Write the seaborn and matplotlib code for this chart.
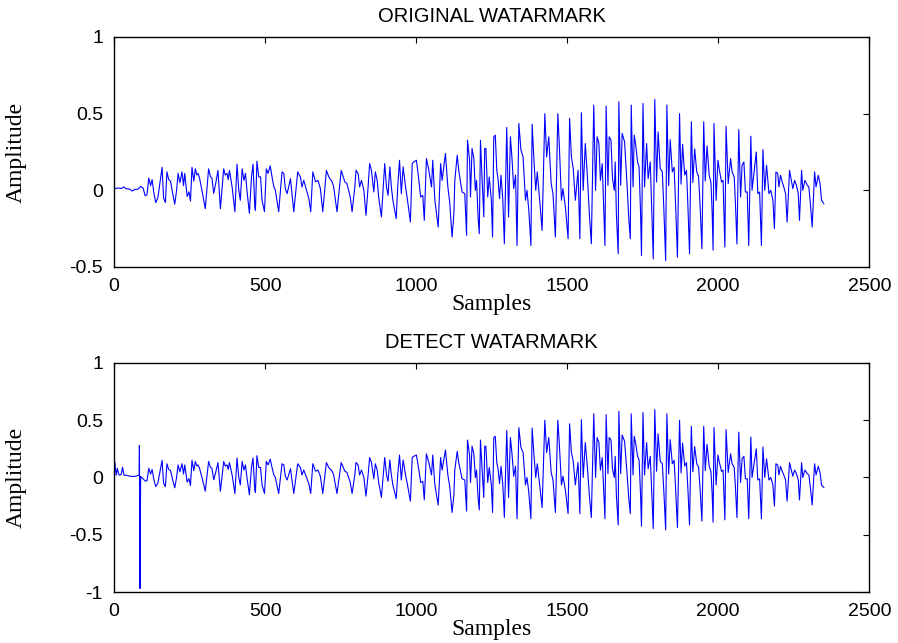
import matplotlib
matplotlib.use('Agg')
import matplotlib.pyplot as plt
import pandas as pd
import seaborn as sns

# waveform vertices (sample index, amplitude)
orig_samples = [
    0, 12, 25, 32, 40, 52, 60, 68, 80, 88, 96, 103, 109,
    115, 121, 126, 132, 138, 145, 152, 159, 164, 170, 175, 181, 187, 194, 201,
    207, 212, 218, 225, 230, 234, 242, 248, 253, 258, 264, 269, 274, 278, 283,
    291, 302, 308, 313, 319, 324, 330, 337, 344, 352, 357, 363, 368, 374, 378,
    382, 391, 400,
    407, 413, 418, 424, 430, 435, 440, 448, 455, 460, 466, 468, 473, 479, 485,
    490, 498, 504, 510, 517, 523, 529, 534, 545, 556, 562, 567, 573, 584, 595,
    608, 617, 622, 628, 634, 645, 651, 658, 667, 675, 683, 691, 703, 711, 722,
    727, 738, 752, 764, 771, 782, 788,
    797, 801, 808, 813, 819, 827, 834, 841, 846, 852, 860, 865, 871, 876, 885,
    891, 896, 902, 907, 913, 918, 923, 934, 939, 945, 951, 957, 965, 970, 981,
    987, 992, 1001, 1009, 1015, 1022, 1027, 1034, 1042, 1051, 1055, 1062, 1073,
    1081, 1086, 1097, 1105, 1111, 1119, 1125, 1128, 1136, 1141, 1152, 1161,
    1167, 1170, 1177, 1180,
    1185, 1191, 1196, 1200, 1205, 1209, 1213, 1218, 1224, 1227, 1231, 1237,
    1242, 1249, 1253, 1257, 1262, 1267, 1271, 1276, 1281, 1287, 1292, 1300,
    1306, 1312, 1317, 1323, 1329, 1334, 1340, 1347, 1354, 1362, 1367, 1373,
    1380, 1384, 1390, 1396, 1401, 1409, 1417, 1426, 1432, 1439, 1447, 1453,
    1461, 1469, 1474, 1481, 1486, 1494, 1503, 1508, 1514, 1520, 1527, 1536,
    1542, 1547, 1553, 1560, 1567, 1574, 1580, 1588,
    1594, 1599, 1605, 1610, 1616, 1620, 1625, 1629, 1635, 1639, 1645, 1650,
    1656, 1659, 1663, 1669, 1671, 1677, 1682, 1690, 1698, 1704, 1709, 1712,
    1718, 1722, 1727, 1733, 1738, 1743, 1746, 1751, 1756, 1763, 1768, 1775,
    1780, 1785, 1790, 1796, 1801, 1808, 1815, 1820, 1826,
    1830, 1836, 1841, 1848, 1854, 1859, 1865, 1872, 1877, 1882, 1889, 1895,
    1900, 1905, 1911, 1916, 1922, 1929, 1935, 1940, 1946, 1952, 1957, 1963,
    1970, 1976, 1980, 1983,
    1986, 1993, 1999, 2004, 2011, 2016, 2022, 2026, 2033, 2041, 2046, 2053,
    2057, 2062, 2068, 2074, 2079, 2085, 2090, 2096, 2101, 2108, 2112, 2120,
    2126, 2131, 2137, 2143, 2148, 2154, 2160, 2168, 2174, 2181, 2186, 2191,
    2197, 2201, 2206, 2212, 2217, 2223, 2228, 2236, 2243, 2247, 2253, 2259,
    2265, 2269, 2276, 2280, 2287, 2295, 2300, 2306, 2311, 2319, 2324, 2331,
    2337, 2342, 2350,
]
orig_amp = [
    0.01, 0.015, 0.012, 0.022, 0.01, 0.008, -0.005, 0.005, 0.008, 0.025, 0.015, -0.035, -0.03,
    0.08, 0.03, 0.07, -0.02, -0.08, -0.05, 0.05, 0.15, -0.05, -0.08, 0.12, 0.07, 0.06, -0.02, -0.09,
    0.0, 0.11, 0.05, 0.12, 0.03, 0.11, -0.04, -0.01, -0.07, 0.15, 0.06, 0.14, 0.1, 0.11, 0.08,
    0.0, -0.12, 0.02, 0.14, 0.09, 0.08, -0.02, 0.05, 0.13, -0.12, 0.0, 0.14, 0.1, 0.11, 0.07,
    0.13, 0.02, -0.14,
    0.17, 0.0, -0.065, 0.14, 0.065, 0.11, 0.0, -0.15, 0.087, 0.17, -0.11, -0.13, 0.19, 0.087, 0.087,
    -0.065, -0.14, 0.14, 0.11, 0.16, 0.087, 0.022, 0.0, -0.14, 0.12, 0.11, 0.011, -0.022, 0.076, -0.14,
    0.12, 0.087, 0.022, 0.065, 0.022, -0.055, -0.14, 0.12, 0.055, 0.065, 0.011, -0.14, 0.13, 0.087, 0.055,
    0.022, -0.14, 0.13, 0.055, 0.044, -0.044, -0.14,
    0.022, 0.131, 0.109, 0.022, 0.065, 0.0, -0.163, 0.022, 0.174, 0.131, -0.011, 0.12, 0.065, -0.044, -0.174,
    0.022, 0.174, 0.022, -0.033, 0.153, 0.022, -0.065, -0.185, 0.022, 0.196, -0.022, 0.153, 0.022, -0.044, -0.207,
    0.174, 0.185, 0.196, 0.065, -0.044, -0.033, -0.196, 0.207, 0.131, 0.022, 0.196, -0.065, -0.24,
    0.174, 0.065, 0.24, 0.022, -0.076, -0.305, -0.153, 0.065, 0.229, 0.131, -0.011, -0.022,
    -0.294, 0.327, 0.196, -0.044,
    0.273, 0.207, 0.0, 0.065, -0.174, -0.283, 0.327, 0.087, -0.174, 0.273, 0.273, -0.044,
    0.087, -0.065, -0.305, 0.349, 0.36, 0.131, 0.076, -0.054, 0.098, -0.065, -0.349, 0.41,
    -0.174, 0.349, 0.218, 0.011, 0.098, -0.36, 0.436, 0.262, 0.218, -0.065, 0.0, -0.131,
    -0.36, 0.432, 0.196, 0.0, 0.12, -0.065, -0.262, 0.5, 0.218, 0.349, 0.044, -0.022,
    -0.305, 0.5, 0.294, -0.065, 0.011, -0.109, -0.316, 0.469, 0.218, 0.142, -0.065, 0.131,
    -0.316, 0.506, 0.0, 0.305, 0.087, -0.174, -0.349, 0.556,
    0.0, 0.349, 0.305, 0.065, 0.174, -0.065, -0.36, 0.549, 0.033, 0.349, 0.327, 0.076,
    0.0, 0.185, -0.164, -0.414, 0.578, 0.033, 0.371, 0.316, 0.044, -0.185, -0.316, 0.556,
    0.022, 0.36, 0.294, 0.185, 0.153, -0.153, -0.425, 0.567, 0.022, 0.305, 0.076, 0.185,
    -0.12, -0.447, 0.593, 0.054, 0.381, 0.142, 0.12, -0.12, -0.458,
    0.556, 0.03, 0.33, 0.12, 0.15, -0.1, -0.436, 0.5, 0.04, 0.3, 0.1, 0.13,
    -0.12, -0.414, 0.447, 0.05, 0.27, 0.12, 0.09, -0.1, -0.381, 0.447, 0.06, 0.29,
    0.1, 0.05, -0.15, -0.39,
    0.436, -0.066, 0.196, 0.13, 0.054, 0.065, -0.37, 0.418, 0.044, 0.207, 0.12, 0.087,
    -0.087, -0.35, 0.396, -0.044, 0.163, 0.185, -0.011, -0.011, -0.36, 0.353, 0.0, 0.142,
    0.25, -0.022, -0.011, -0.36, 0.266, 0.0, 0.163, -0.022, 0.0, -0.065, -0.25, 0.12,
    0.109, 0.022, 0.098, 0.054, 0.022, -0.022, -0.207, 0.13, 0.054, 0.011, 0.065, 0.033,
    -0.022, -0.196, 0.13, 0.0, 0.065, 0.033, 0.022, -0.11, -0.24, 0.12, 0.022, 0.098,
    0.044, -0.066, -0.088,
]

# the detected watermark differs only in its first ~100 samples (spike near 85)
detect_head_samples = [0, 3, 7, 11, 15, 19, 24, 28, 33, 40, 55, 70, 83, 84, 86, 88, 95, 103]
detect_head_amp = [0.06, 0.13, 0.02, 0.08, 0.03, 0.02, 0.03, 0.09, 0.02, 0.02, 0.01, 0.01,
                   0.02, 0.28, -0.97, 0.01, -0.01, -0.03]

x_ticks = [0, 500, 1000, 1500, 2000, 2500]
top_yticks = [-0.5, 0, 0.5, 1]
bottom_yticks = [-1, -0.5, 0, 0.5, 1]

orig_df = pd.DataFrame({'sample': orig_samples, 'amp': orig_amp})
tail = orig_df[orig_df['sample'] >= 109]
detect_df = pd.concat([pd.DataFrame({'sample': detect_head_samples, 'amp': detect_head_amp}), tail],
                      ignore_index=True)

sns.set_style('white')
plt.rcParams['font.family'] = ['Liberation Sans', 'DejaVu Sans']
plt.rcParams['text.color'] = 'black'
plt.rcParams['axes.labelcolor'] = 'black'

fig = plt.figure(figsize=(8.98, 6.43), dpi=100)
ax1 = fig.add_axes([0.127, 0.5848, 0.841, 0.3577])
ax2 = fig.add_axes([0.127, 0.0793, 0.841, 0.3562])


def tick_label(v):
    return '%g' % v


for ax, df, title, ylim, yticks in [(ax1, orig_df, 'ORIGINAL WATARMARK', (-0.5, 1), top_yticks),
                                    (ax2, detect_df, 'DETECT WATARMARK', (-1, 1), bottom_yticks)]:
    sns.lineplot(data=df, x='sample', y='amp', ax=ax, color='#0000ff', linewidth=0.8,
                 sort=False, estimator=None)
    ax.set_xlim(0, 2500)
    ax.set_ylim(*ylim)
    ax.set_xticks(x_ticks)
    ax.set_xticklabels([tick_label(v) for v in x_ticks])
    ax.set_yticks(yticks)
    ax.set_yticklabels([tick_label(v) for v in yticks])
    ax.tick_params(direction='in', length=4, width=0.8, labelsize=14, top=True, right=True,
                   colors='black', pad=8)
    for sp in ax.spines.values():
        sp.set_visible(True)
        sp.set_color('black')
        sp.set_linewidth(1.0)
    ax.set_title(title, fontsize=14.5, pad=11, color='black')
    ax.set_xlabel('Samples', fontsize=17, family='Liberation Serif', color='black')
    ax.set_ylabel('Amplitude', fontsize=17, family='Liberation Serif', color='black')
    ax.xaxis.set_label_coords(0.5, -0.118)
    ax.yaxis.set_label_coords(-0.115, 0.5)

plt.savefig('out.png', dpi=100)
